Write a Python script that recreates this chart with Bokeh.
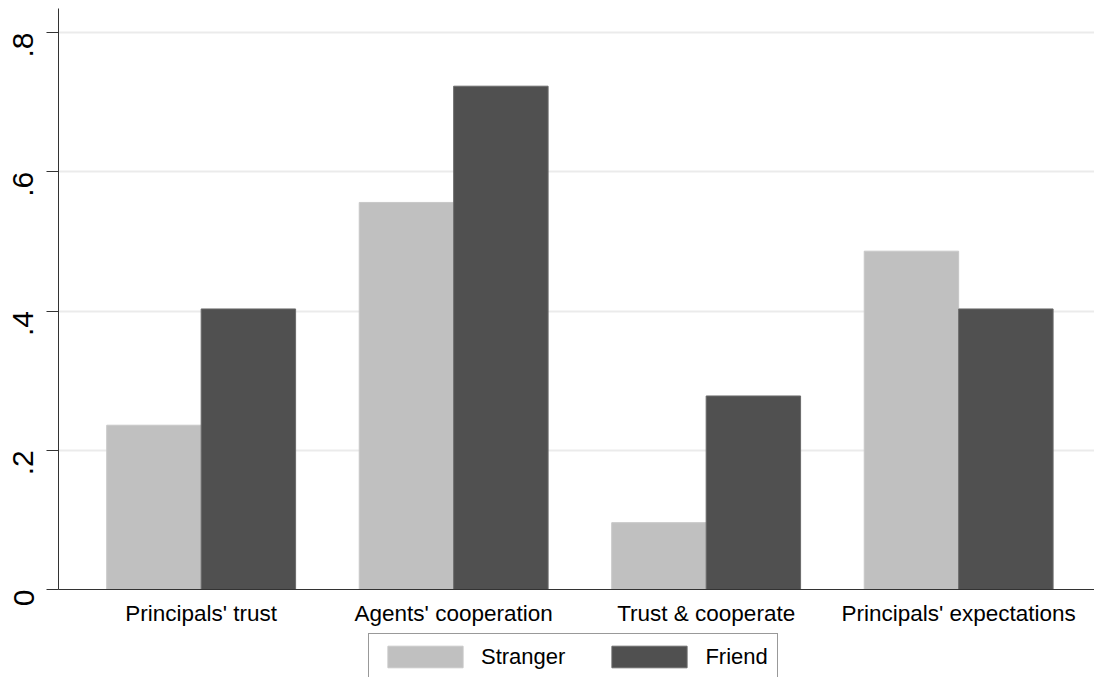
import math
from bokeh.plotting import figure
from bokeh.layouts import column
from bokeh.models import ColumnDataSource, FixedTicker, Legend, LegendItem, Range1d
from bokeh.transform import dodge
from bokeh.embed import file_html
from bokeh.resources import INLINE

categories = ["Principals' trust", "Agents' cooperation", "Trust & cooperate", "Principals' expectations"]
series_names = ["Stranger", "Friend"]
stranger = [0.236, 0.556, 0.096, 0.486]
friend = [0.403, 0.723, 0.278, 0.403]
y_ticks = [0, 0.2, 0.4, 0.6, 0.8]
y_tick_labels = ["0", ".2", ".4", ".6", ".8"]

colors = ["#c0c0c0", "#505050"]
edges = ["#c8c8c8", "#6a6a6a"]

idx = list(range(len(categories)))
src = ColumnDataSource(dict(x=idx, stranger=stranger, friend=friend))

p = figure(frame_width=1036, frame_height=581, output_backend="svg", toolbar_location=None,
           x_range=Range1d(-0.565, 3.538), y_range=Range1d(0, 0.8346),
           min_border_left=58, min_border_right=0, min_border_top=8, min_border_bottom=40)
p.outline_line_color = None
p.background_fill_color = "white"
p.border_fill_color = "white"

bw = 0.374
p.vbar(x=dodge("x", -bw / 2, range=p.x_range), top="stranger", width=bw, bottom=0,
       source=src, fill_color=colors[0], line_color=edges[0], line_width=1)
p.vbar(x=dodge("x", bw / 2, range=p.x_range), top="friend", width=bw, bottom=0,
       source=src, fill_color=colors[1], line_color=edges[1], line_width=1)

# axes
p.xaxis.ticker = FixedTicker(ticks=idx)
p.xaxis.major_label_overrides = {i: c for i, c in zip(idx, categories)}
p.xaxis.major_tick_out = 0
p.xaxis.major_tick_in = 0
p.xaxis.minor_tick_line_color = None
p.xaxis.major_label_standoff = 11
p.xaxis.major_label_text_font = "Liberation Sans"
p.xaxis.major_label_text_font_size = "22.5px"
p.xaxis.major_label_text_color = "black"
p.xaxis.axis_line_color = "#333333"

p.yaxis.ticker = FixedTicker(ticks=y_ticks)
p.yaxis.major_label_overrides = {t: l for t, l in zip(y_ticks, y_tick_labels)}
p.yaxis.major_label_orientation = math.pi / 2
p.yaxis.major_tick_out = 12
p.yaxis.major_tick_in = 0
p.yaxis.minor_tick_line_color = None
p.yaxis.major_label_standoff = 23
p.yaxis.major_label_text_font = "Liberation Sans"
p.yaxis.major_label_text_font_size = "30px"
p.yaxis.major_label_text_color = "black"
p.yaxis.axis_line_color = "#333333"
p.yaxis.major_tick_line_color = "#333333"

p.xgrid.grid_line_color = None
p.ygrid.ticker = FixedTicker(ticks=y_ticks)
p.ygrid.grid_line_color = "#ebebeb"
p.ygrid.grid_line_width = 2

# legend strip below the chart (its frame is aligned with the chart frame)
lg = figure(frame_width=1036, height=48, output_backend="svg", toolbar_location=None,
            x_axis_type=None, y_axis_type=None, x_range=Range1d(0, 1), y_range=Range1d(0, 1),
            min_border_left=58, min_border_right=0, min_border_top=0, min_border_bottom=0)
lg.outline_line_color = None
lg.grid.visible = False
lg.border_fill_color = "white"
lg.background_fill_color = "white"
dummy = []
for c, e in zip(colors, edges):
    dummy.append(lg.vbar(x=[float("nan")], top=[float("nan")], width=0.1,
                         fill_color=c, line_color=e))

legend = Legend(items=[LegendItem(label=n, renderers=[r]) for n, r in zip(series_names, dummy)],
                orientation="horizontal", location=(310, -3),
                glyph_width=94, glyph_height=27, label_standoff=9, spacing=37,
                padding=9, margin=0,
                label_text_font="Liberation Sans", label_text_font_size="22px",
                label_text_color="black", border_line_color="#333333",
                border_line_width=1, background_fill_color="white")
lg.add_layout(legend)

layout = column(p, lg, spacing=0)
open("out.html", "w").write(file_html(layout, INLINE))
